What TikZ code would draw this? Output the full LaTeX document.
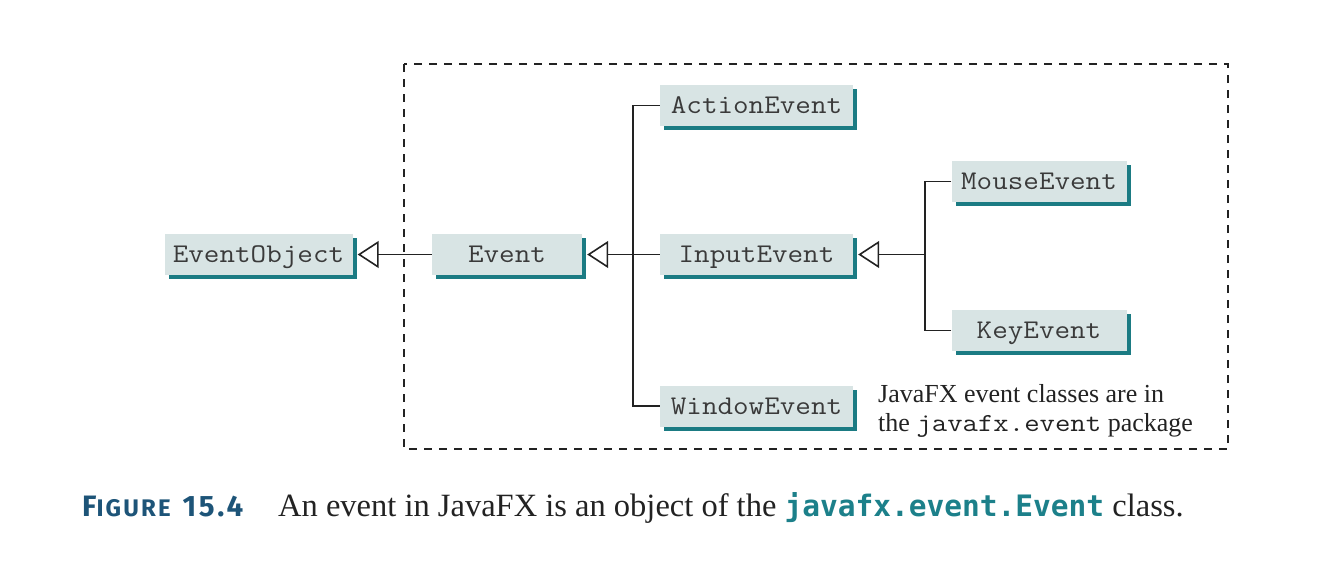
\documentclass[tikz,border=0pt]{standalone}
\usepackage{fontspec}
\setmainfont{Liberation Serif}
\newfontfamily\boxmono[FakeStretch=1.12]{Latin Modern Mono}
\newfontfamily\notemono[FakeStretch=1.15]{Latin Modern Mono}
\newfontfamily\capsans[LetterSpace=9]{Fira Sans}
\newfontfamily\capmono{DejaVu Sans Mono}
\usetikzlibrary{arrows.meta,shadows}
\definecolor{boxfill}{HTML}{D8E4E4}
\definecolor{boxshadow}{HTML}{1B7B83}
\definecolor{boxtext}{HTML}{3A3A3A}
\definecolor{figblue}{HTML}{1D5478}
\definecolor{codeteal}{HTML}{1C808A}
\definecolor{linecol}{HTML}{222222}
\tikzset{
  cls/.style={draw=none, fill=boxfill, minimum height=41pt, inner sep=0pt,
    text height=16pt, text depth=0pt,
    font=\fontsize{27pt}{30pt}\selectfont\boxmono, text=boxtext,
    drop shadow={shadow xshift=4pt, shadow yshift=-4pt, fill=boxshadow, opacity=1}},
  conn/.style={draw=linecol, line width=1.6pt},
  inh/.style={conn, -{Triangle[open, length=21pt, width=27pt, fill=white, line width=1.6pt]}},
  note/.style={anchor=base west, inner sep=0pt, font=\fontsize{26pt}{29pt}\selectfont, text=linecol},
}
\begin{document}
\begin{tikzpicture}[x=1pt,y=-1pt]
\useasboundingbox (0,0) rectangle (1337,571);
\draw[draw=linecol, line width=1.5pt, dash pattern=on 8pt off 7pt] (404,64) rectangle (1228,449);
\node[cls, minimum width=188pt] (EventObject) at (258.5,254.5) {EventObject};
\node[cls, minimum width=150pt] (Event) at (507,254.5) {Event};
\node[cls, minimum width=193pt] (ActionEvent) at (756.5,105.5) {ActionEvent};
\node[cls, minimum width=193pt] (InputEvent) at (756.5,254.5) {InputEvent};
\node[cls, minimum width=193pt] (WindowEvent) at (756.5,406) {WindowEvent};
\node[cls, minimum width=175pt] (MouseEvent) at (1039,181.5) {MouseEvent};
\node[cls, minimum width=175pt] (KeyEvent) at (1039,330.5) {KeyEvent};
\coordinate (j1) at (633,254.5);
\coordinate (j2) at (925,254.5);
\draw[inh] (Event.west) -- ([xshift=5pt]EventObject.east);
\draw[inh] (InputEvent.west) -- ([xshift=5pt]Event.east);
\draw[conn] (ActionEvent.west) -| (j1);
\draw[conn] (WindowEvent.west) -| (j1);
\draw[inh] (MouseEvent.west) -| (j2) -- ([xshift=5pt]InputEvent.east);
\draw[conn] (KeyEvent.west) -| (j2);
\node[note] (note1) at (878,402) {JavaFX event classes are in};
\node[note] (note2) at (878,431) {the {\notemono\fontsize{26pt}{29pt}\selectfont javafx.event} package};
\node[anchor=base west, inner sep=0pt, text=figblue, font=\capsans\bfseries] (figlabel) at (82,516)
  {\fontsize{29.5pt}{30pt}\selectfont F\fontsize{24pt}{30pt}\selectfont IGURE\hspace{4pt} \fontsize{29.5pt}{30pt}\selectfont 15.4};
\node[anchor=base west, inner sep=0pt, text=linecol, font=\fontsize{32.5pt}{36pt}\selectfont] (figtext) at (278,516)
  {An event in JavaFX is an object of the {\capmono\bfseries\color{codeteal}\fontsize{29.5pt}{34pt}\selectfont javafx.event.Event} class.};
\end{tikzpicture}
\end{document}
